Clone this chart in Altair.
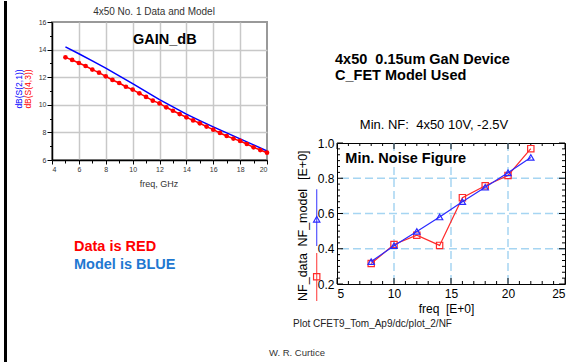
import altair as alt
import pandas as pd

FONT = "Liberation Sans"
NB = "\u00a0"

# ---------------- data ----------------
gain_freq = [5.0, 5.5, 6.0, 6.5, 7.0, 7.5, 8.0, 8.5, 9.0, 9.5, 10.0, 10.5, 11.0, 11.5,
             12.0, 12.5, 13.0, 13.5, 14.0, 14.5, 15.0, 15.5, 16.0, 16.5, 17.0, 17.5,
             18.0, 18.5, 19.0, 19.5, 20.0]
gain_data = [13.44, 13.25, 13.03, 12.81, 12.55, 12.33, 12.06, 11.80, 11.58, 11.31,
             11.10, 10.83, 10.57, 10.30, 10.10, 9.82, 9.57, 9.33, 9.09, 8.87, 8.66,
             8.42, 8.20, 7.96, 7.74, 7.55, 7.38, 7.16, 6.92, 6.72, 6.53]
model_freq = [5, 6, 7, 8, 9, 10, 11, 12, 13, 14, 15, 16, 17, 18, 19, 20]
gain_model = [14.20, 13.70, 13.18, 12.66, 12.10, 11.53, 10.95, 10.38, 9.85, 9.32,
              8.85, 8.40, 7.97, 7.53, 7.10, 6.65]

nf_freq = [8, 10, 12, 14, 16, 18, 20, 22]
nf_data = [0.316, 0.424, 0.477, 0.419, 0.690, 0.757, 0.816, 0.968]
nf_model = [0.327, 0.417, 0.498, 0.580, 0.667, 0.749, 0.831, 0.918]

gain_x_ticks = list(range(4, 21))
gain_y_ticks = list(range(6, 17))
nf_x_labels = [5, 10, 15, 20, 25]
nf_y_labels = [0.2, 0.4, 0.6, 0.8, 1.0]
nf_x_grid = [10, 15, 20]
nf_y_grid = [0.4, 0.6, 0.8]
nf_x_ticks = list(range(5, 26))
nf_y_ticks = [round(0.2 + k / 30, 5) for k in range(25)]

RED = "#ff0000"
BLUE = "#0000ff"
NF_RED = "#ff2a2a"
NF_BLUE = "#2a2aff"


def txt(label, x, y, size, color="black", weight="normal", align="left", angle=None):
    kw = dict(align=align, baseline="middle", fontSize=size, color=color,
              fontWeight=weight, font=FONT)
    if angle is not None:
        kw["angle"] = angle
    return alt.Chart(pd.DataFrame({"t": [label]})).mark_text(**kw).encode(
        x=alt.value(x), y=alt.value(y), text="t:N")


# ---------------- left plot (gain) ----------------
LW, LH = 215, 138
gx = alt.X("f:Q", title=None,
           scale=alt.Scale(domain=[4, 20], nice=False, zero=False),
           axis=alt.Axis(values=gain_x_ticks,
                         labelExpr="datum.value % 2 === 0 ? datum.label : ''",
                         tickSize={"condition": {"test": "datum.value % 2 !== 0", "value": 3}, "value": 4},
                         tickColor="black", tickWidth=1,
                         domainColor="black", domainWidth=1.5,
                         labelFontSize=7, labelColor="#333333", labelPadding=1, labelFont=FONT,
                         grid=True, gridColor="#c8c8c8", gridWidth=1.5,
                         gridOpacity={"condition": {"test": "datum.value % 2 !== 0 || datum.value === 4 || datum.value === 20", "value": 0}, "value": 1}))
gy = alt.Y("v:Q", title=None,
           scale=alt.Scale(domain=[6, 16], nice=False, zero=False),
           axis=alt.Axis(values=gain_y_ticks,
                         labelExpr="datum.value % 2 === 0 ? datum.label : ''",
                         tickSize={"condition": {"test": "datum.value % 2 !== 0", "value": 2.5}, "value": 5},
                         tickColor="black", tickWidth=1,
                         domainColor="black", domainWidth=1.5,
                         labelFontSize=7, labelColor="#333333", labelPadding=1, labelFont=FONT,
                         grid=True, gridColor="#c8c8c8", gridWidth=1.5,
                         gridOpacity={"condition": {"test": "datum.value % 2 !== 0 || datum.value === 6 || datum.value === 16", "value": 0}, "value": 1}))

df_gd = pd.DataFrame({"f": gain_freq, "v": gain_data})
df_gm = pd.DataFrame({"f": model_freq, "v": gain_model})

blue_line = alt.Chart(df_gm).mark_line(color=BLUE, strokeWidth=1.5).encode(x=gx, y=gy)
red_line = alt.Chart(df_gd).mark_line(color=RED, strokeWidth=1.5).encode(x=gx, y=gy)
red_pts = alt.Chart(df_gd).mark_circle(color=RED, size=22, opacity=1).encode(x=gx, y=gy)

bar = alt.Chart(pd.DataFrame({"t": [0]})).mark_rect(color="black").encode(
    x=alt.value(-48), x2=alt.value(-45), y=alt.value(-21), y2=alt.value(341))

left = alt.layer(
    blue_line, red_line, red_pts,
    txt("4x50 No. 1 Data and Model", 102, -10, 10, color="#333333", align="center"),
    txt("GAIN_dB", 81, 18, 14.5, weight="bold"),
    txt("freq, GHz", 107, 162, 9, color="#333333", align="center"),
    txt("dB(S(2,1))", -33.5, 67, 8.5, color=BLUE, align="center", angle=270),
    txt("dB(S(4,3))", -24, 67, 8.5, color=RED, align="center", angle=270),
    txt("Data is RED", 22, 225, 14.5, color=RED, weight="bold"),
    txt("Model is BLUE", 22, 242.5, 14.5, color="#1f78d1", weight="bold"),
    txt("W. R. Curtice", 217, 331, 9.5, color="#333333"),
    bar,
).properties(width=LW, height=LH,
             view=alt.ViewBackground(stroke="#999999", strokeWidth=2))

# ---------------- right spacer with device text ----------------
spacer = alt.layer(
    txt("4x50" + NB + NB + "0.15um GaN Device", -2, 37.5, 14.5, weight="bold"),
    txt("C_FET Model Used", -2, 54, 14.5, weight="bold"),
).properties(width=228, height=100,
             view=alt.ViewBackground(stroke="transparent"))

# ---------------- right plot (NF) ----------------
RW, RH = 228, 141
nx = alt.X("f:Q", title=None,
           scale=alt.Scale(domain=[5, 25], nice=False, zero=False),
           axis=alt.Axis(values=nf_x_labels, ticks=False, domain=False, grid=False,
                         labelFontSize=12, labelColor="black", labelPadding=4, labelFont=FONT))
ny = alt.Y("v:Q", title=None,
           scale=alt.Scale(domain=[0.2, 1.0], nice=False, zero=False),
           axis=alt.Axis(values=nf_y_labels, format=".1f", ticks=False, domain=False, grid=False,
                         labelFontSize=12, labelColor="black", labelPadding=3, labelFont=FONT))

df_nd = pd.DataFrame({"f": nf_freq, "v": nf_data})
df_nm = pd.DataFrame({"f": nf_freq, "v": nf_model})
df_xg = pd.DataFrame({"f": nf_x_grid})
df_yg = pd.DataFrame({"v": nf_y_grid})
df_xt = pd.DataFrame({"f": nf_x_ticks, "major": [t % 5 == 0 for t in nf_x_ticks]})
df_yt = pd.DataFrame({"v": nf_y_ticks, "major": [k % 6 == 0 for k in range(len(nf_y_ticks))]})

GRID = "#a6d5f2"
grid_x = alt.Chart(df_xg).mark_rule(color=GRID, strokeWidth=1.5, strokeDash=[8, 4]).encode(x=nx)
grid_y = alt.Chart(df_yg).mark_rule(color=GRID, strokeWidth=1.5, strokeDash=[8, 4]).encode(y=ny)


def xticks(major, y0, y1):
    return alt.Chart(df_xt).transform_filter(
        "datum.major" if major else "!datum.major"
    ).mark_rule(color="black", strokeWidth=1).encode(x=nx, y=alt.value(y0), y2=alt.value(y1))


def yticks(major, x0, x1):
    return alt.Chart(df_yt).transform_filter(
        "datum.major" if major else "!datum.major"
    ).mark_rule(color="black", strokeWidth=1).encode(y=ny, x=alt.value(x0), x2=alt.value(x1))


nf_red_line = alt.Chart(df_nd).mark_line(color=NF_RED, strokeWidth=1.2).encode(x=nx, y=ny)
nf_red_pts = alt.Chart(df_nd).mark_point(shape="square", filled=False, size=40,
                                         strokeWidth=1.2, color=NF_RED, opacity=1).encode(x=nx, y=ny)
nf_blue_line = alt.Chart(df_nm).mark_line(color=NF_BLUE, strokeWidth=1.2).encode(x=nx, y=ny)
nf_blue_pts = alt.Chart(df_nm).mark_point(shape="triangle-up", filled=False, size=40,
                                          strokeWidth=1.2, color=NF_BLUE, opacity=1).encode(x=nx, y=ny)

one = pd.DataFrame({"t": [0]})
leg_blue_line = alt.Chart(one).mark_rule(color="#5555ff", strokeWidth=1.2).encode(
    x=alt.value(-20.3), y=alt.value(46.3), y2=alt.value(103))
leg_blue_pt = alt.Chart(one).mark_point(shape="triangle-up", filled=False, size=40,
                                        strokeWidth=1.2, color=NF_BLUE, opacity=1).encode(
    x=alt.value(-20.3), y=alt.value(76.3))
leg_red_line = alt.Chart(one).mark_rule(color="#ff5555", strokeWidth=1.2).encode(
    x=alt.value(-20.3), y=alt.value(110), y2=alt.value(158))
leg_red_pt = alt.Chart(one).mark_point(shape="square", filled=False, size=40,
                                       strokeWidth=1.2, color=NF_RED, opacity=1).encode(
    x=alt.value(-20.3), y=alt.value(133.7))

nf = alt.layer(
    grid_x, grid_y,
    xticks(True, RH, RH - 6), xticks(False, RH, RH - 3),
    xticks(True, 0, 6), xticks(False, 0, 3),
    yticks(True, 0, 6), yticks(False, 0, 3),
    yticks(True, RW, RW - 6), yticks(False, RW, RW - 3),
    nf_red_line, nf_red_pts, nf_blue_line, nf_blue_pts,
    leg_blue_line, leg_blue_pt, leg_red_line, leg_red_pt,
    txt("Min. NF:" + NB + NB + "4x50 10V, -2.5V", 97, -18, 13, align="center"),
    txt("Min. Noise Figure", 8.3, 16, 14.5, weight="bold"),
    txt("freq" + NB + NB + "[E+0]", 109.5, 166, 12, align="center"),
    txt("Plot CFET9_Tom_Ap9/dc/plot_2/NF", -44, 181, 10, color="#222222"),
    txt("NF_data", -34, 134, 12.5, align="center", angle=270),
    txt("NF_model", -34, 74.7, 12.5, align="center", angle=270),
    txt("[E+0]", -34, 22.2, 12.5, align="center", angle=270),
).properties(width=RW, height=RH,
             view=alt.ViewBackground(stroke="black", strokeWidth=1))

right_col = alt.vconcat(spacer, nf, spacing=21, bounds="flush")

chart = alt.hconcat(left, right_col, spacing=70, bounds="flush").properties(
    padding={"left": 3, "top": 0, "right": 5, "bottom": 0},
    background="white",
).configure(font=FONT)

chart.save("out.html", embed_options={"renderer": "svg", "actions": False})
